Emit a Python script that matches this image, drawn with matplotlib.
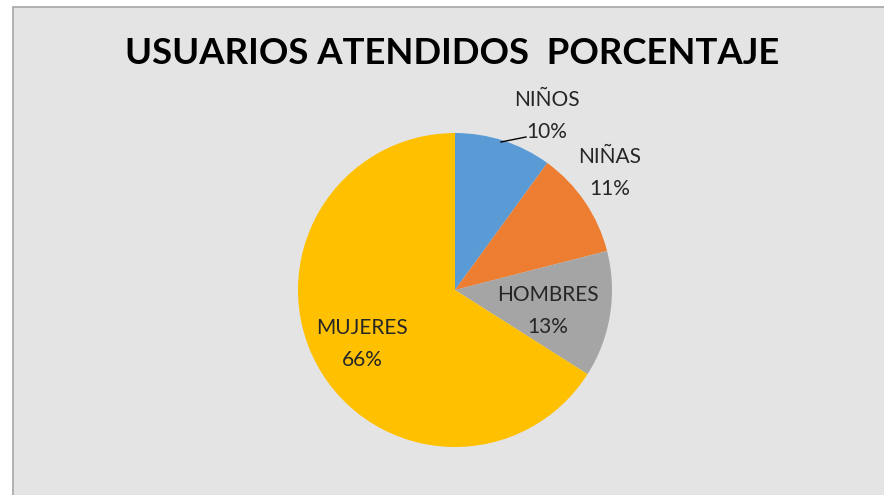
import matplotlib.pyplot as plt
from matplotlib.patches import Rectangle

categorias = ["NIÑOS", "NIÑAS", "HOMBRES", "MUJERES"]
porcentajes = [10, 11, 13, 66]
colores = ["#5B9BD5", "#ED7D31", "#A5A5A5", "#FFC000"]

W, H = 884, 495
plt.rcParams['font.family'] = ['Lato', 'DejaVu Sans']

fig = plt.figure(figsize=(W / 100, H / 100), dpi=100, facecolor="white")

# fondo del grafico con borde arriba e izquierda
fondo = Rectangle((13 / W, -0.1), 1.2, 1.1 - 7 / H, transform=fig.transFigure,
                  facecolor="#E4E4E4", edgecolor="#A6A6A6", linewidth=1.2, zorder=-5)
fig.patches.append(fondo)

cx, cy, r = 455, 290, 157
ax = fig.add_axes([(cx - r) / W, (H - cy - r) / H, 2 * r / W, 2 * r / H])
ax.pie(porcentajes, colors=colores, startangle=90, counterclock=False, radius=1,
       wedgeprops=dict(linewidth=0))
ax.set_xlim(-1, 1)
ax.set_ylim(-1, 1)
ax.axis("off")


def px(x, y):
    return x / W, 1 - y / H


fig.text(*px(452, 54), "USUARIOS ATENDIDOS  PORCENTAJE", ha="center", va="center",
         fontsize=26.3, fontweight="bold", color="black")

pos = [(547, 116), (610, 173), (548, 311), (362, 344)]
for (x, y), cat, p in zip(pos, categorias, porcentajes):
    fig.text(*px(x, y), "%s\n%d%%" % (cat, p), ha="center", va="center",
             fontsize=15, linespacing=1.7, color="#262626")

# linea guia de NIÑOS
fig.add_artist(plt.Line2D([501 / W, 526 / W], [1 - 142 / H, 1 - 137 / H],
                          transform=fig.transFigure, color="black", linewidth=1))

plt.savefig("out.png", dpi=100, facecolor=fig.get_facecolor())
